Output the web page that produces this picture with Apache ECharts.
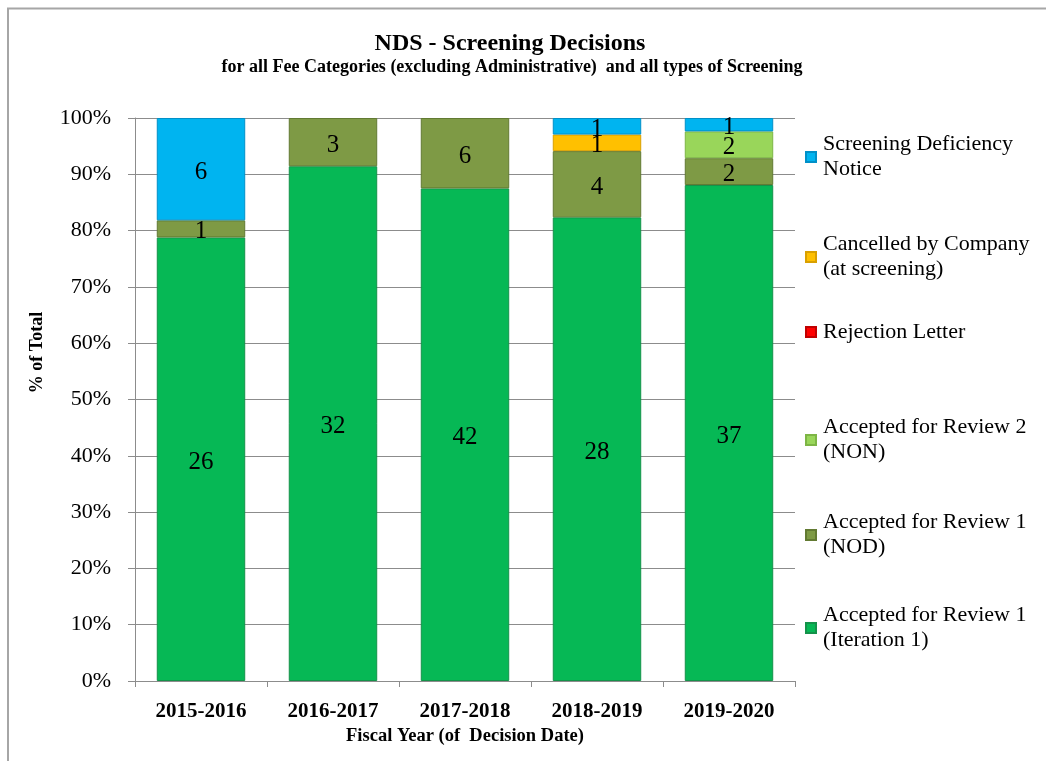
<!DOCTYPE html>
<html>
<head>
<meta charset="utf-8">
<title>NDS - Screening Decisions</title>
<script src="https://cdn.jsdelivr.net/npm/echarts@6/dist/echarts.min.js"></script>
<style>
  html, body { margin: 0; padding: 0; background: #fff; }
  #main { width: 1046px; height: 761px; }
</style>
</head>
<body>
<div id="main"></div>
<script>
// fiscal years on the x axis
var years = ['2015-2016', '2016-2017', '2017-2018', '2018-2019', '2019-2020'];

// counts per decision type (bottom of the stack first)
var acceptedIter1 = [26, 32, 42, 28, 37];
var acceptedNOD = [1, 3, 6, 4, 2];
var acceptedNON = [0, 0, 0, 0, 2];
var rejection = [0, 0, 0, 0, 0];
var cancelled = [0, 0, 0, 1, 0];
var deficiency = [6, 0, 0, 1, 1];

var seriesNames = [
  'Accepted for Review 1 (Iteration 1)',
  'Accepted for Review 1 (NOD)',
  'Accepted for Review 2 (NON)',
  'Rejection Letter',
  'Cancelled by Company (at screening)',
  'Screening Deficiency Notice'
];
var legendText = [
  'Accepted for Review 1\n(Iteration 1)',
  'Accepted for Review 1\n(NOD)',
  'Accepted for Review 2\n(NON)',
  'Rejection Letter',
  'Cancelled by Company\n(at screening)',
  'Screening Deficiency\nNotice'
];
var yTicks = [0, 10, 20, 30, 40, 50, 60, 70, 80, 90, 100];

var colors = ['#06B855', '#7E9A45', '#99D65A', '#FF0000', '#FFC000', '#00B4F0'];
var borders = ['#14924A', '#627A32', '#7DB545', '#C00000', '#D9A000', '#0090C8'];
var serif = '"Liberation Serif", "Times New Roman", serif';

var allCounts = [acceptedIter1, acceptedNOD, acceptedNON, rejection, cancelled, deficiency];
var totals = years.map(function (y, i) {
  return allCounts.reduce(function (s, arr) { return s + arr[i]; }, 0);
});

var myChart = echarts.init(document.getElementById('main'));

var series = allCounts.map(function (counts, k) {
  return {
    name: seriesNames[k],
    type: 'bar',
    stack: 'total',
    barWidth: '67%',
    itemStyle: { color: colors[k], borderColor: borders[k], borderWidth: 1 },
    label: {
      show: true,
      position: 'inside',
      offset: [0, 3],
      color: '#000',
      fontFamily: serif,
      fontSize: 25,
      formatter: function (p) { return String(counts[p.dataIndex]); }
    },
    // empty segments are left out so they draw no border line
    data: counts.map(function (c, i) { return c ? c / totals[i] * 100 : null; })
  };
});

// one legend per entry so each sits where the original puts it
var legendCenters = [628, 535, 440, 332, 257, 157];
var legends = seriesNames.map(function (n, k) {
  var twoLine = legendText[k].indexOf('\n') >= 0;
  return {
    data: [n],
    orient: 'vertical',
    left: 800,
    top: legendCenters[k] - (twoLine ? 37.5 : 12.5) - 5,
    itemWidth: 10,
    itemHeight: 10,
    itemGap: 0,
    icon: 'rect',
    selectedMode: false,
    formatter: function () { return legendText[k]; },
    textStyle: {
      fontFamily: serif,
      fontSize: 22,
      lineHeight: 25,
      color: '#000',
      padding: twoLine ? [25, 0, 0, 2] : [0, 0, 0, 2]
    }
  };
});

var option = {
  backgroundColor: '#fff',
  title: [{
    text: 'NDS - Screening Decisions',
    left: 505,
    top: 27,
    textAlign: 'center',
    textStyle: { fontFamily: serif, fontSize: 24, fontWeight: 'bold', color: '#000' }
  }, {
    text: 'for all Fee Categories (excluding Administrative)  and all types of Screening',
    left: 507,
    top: 53,
    textAlign: 'center',
    textStyle: { fontFamily: serif, fontSize: 18, fontWeight: 'bold', color: '#000' }
  }],
  graphic: [{
    type: 'rect',
    shape: { x: 8, y: 8.5, width: 1100, height: 800 },
    style: { fill: 'none', stroke: '#a6a6a6', lineWidth: 2 },
    silent: true
  }],
  legend: legends,
  grid: { left: 135, right: 251, top: 118, bottom: 80 },
  xAxis: {
    type: 'category',
    data: years,
    name: 'Fiscal Year (of  Decision Date)',
    nameLocation: 'middle',
    nameGap: 46,
    nameTextStyle: { fontFamily: serif, fontSize: 18.5, fontWeight: 'bold', color: '#000' },
    axisLine: { lineStyle: { color: '#8c8c8c', width: 1 } },
    axisTick: { show: true, length: 6, lineStyle: { color: '#8c8c8c' } },
    axisLabel: { fontFamily: serif, fontSize: 21, fontWeight: 'bold', color: '#000', margin: 20 }
  },
  yAxis: {
    type: 'value',
    min: yTicks[0],
    max: yTicks[yTicks.length - 1],
    interval: 10,
    name: '% of Total',
    nameLocation: 'middle',
    nameRotate: 90,
    nameGap: 89,
    nameTextStyle: { fontFamily: serif, fontSize: 18, fontWeight: 'bold', color: '#000', padding: [0, 0, 0, 94] },
    axisLine: { show: true, lineStyle: { color: '#8c8c8c', width: 1 } },
    axisTick: { show: true, length: 7, lineStyle: { color: '#8c8c8c' } },
    axisLabel: { formatter: '{value}%', fontFamily: serif, fontSize: 22, color: '#000', margin: 24 },
    splitLine: { show: true, lineStyle: { color: '#8c8c8c', width: 1 } }
  },
  series: series
};
myChart.setOption(option, true);
</script>
</body>
</html>
